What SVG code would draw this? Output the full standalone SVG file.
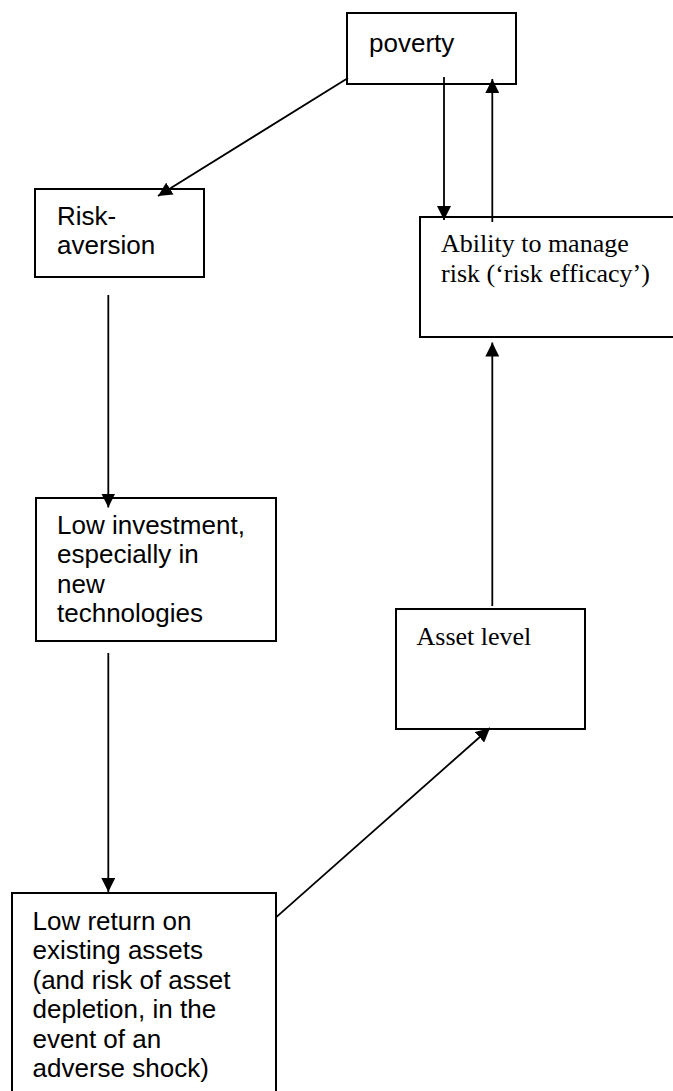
<svg xmlns="http://www.w3.org/2000/svg" width="673" height="1091" viewBox="0 0 673 1091">
  <style>
    .box { fill: #ffffff; stroke: #000000; stroke-width: 2; }
    .sans { font-family: "Liberation Sans", Arial, sans-serif; font-size: 26px; fill: #000000; }
    .serif { font-family: "Liberation Serif", "Times New Roman", serif; font-size: 26px; fill: #000000; }
    .link { fill: none; stroke: #000000; stroke-width: 1.8; marker-end: url(#head); }
  </style>
  <defs>
    <marker id="head" viewBox="0 0 14 14" refX="14" refY="7" markerWidth="14" markerHeight="14" markerUnits="userSpaceOnUse" orient="auto">
      <path d="M0,0 L14,7 L0,14 Z" fill="#000000"/>
    </marker>
  </defs>

  <rect width="673" height="1091" fill="#ffffff"/>

  <g id="node-poverty">
    <rect class="box" x="347" y="13" width="169" height="71"/>
    <text class="sans" x="369" y="52">poverty</text>
  </g>

  <g id="node-risk-aversion">
    <rect class="box" x="35" y="189" width="169" height="88"/>
    <text class="sans" x="57" y="225">Risk-</text>
    <text class="sans" x="57" y="253.5">aversion</text>
  </g>

  <g id="node-risk-efficacy">
    <rect class="box" x="420" y="217" width="262" height="120"/>
    <text class="serif" x="441" y="252">Ability to manage</text>
    <text class="serif" x="441" y="282">risk (‘risk efficacy’)</text>
  </g>

  <g id="node-low-investment">
    <rect class="box" x="36" y="498" width="240" height="143"/>
    <text class="sans" x="57" y="533.5">Low investment,</text>
    <text class="sans" x="57" y="563">especially in</text>
    <text class="sans" x="57" y="592.5">new</text>
    <text class="sans" x="57" y="622">technologies</text>
  </g>

  <g id="node-asset-level">
    <rect class="box" x="396" y="609" width="189" height="120"/>
    <text class="serif" x="416.5" y="645">Asset level</text>
  </g>

  <g id="node-low-return">
    <rect class="box" x="12" y="893" width="264" height="210"/>
    <text class="sans" x="32.5" y="929.5">Low return on</text>
    <text class="sans" x="32.5" y="959">existing assets</text>
    <text class="sans" x="32.5" y="988.5">(and risk of asset</text>
    <text class="sans" x="32.5" y="1018">depletion, in the</text>
    <text class="sans" x="32.5" y="1047.5">event of an</text>
    <text class="sans" x="32.5" y="1077">adverse shock)</text>
  </g>

  <g id="connectors">
    <line class="link" x1="348" y1="78" x2="158" y2="196"/>
    <line class="link" x1="444" y1="77" x2="444" y2="220"/>
    <line class="link" x1="492.3" y1="222" x2="492.3" y2="79"/>
    <line class="link" x1="108.3" y1="295" x2="108.3" y2="507.5"/>
    <line class="link" x1="108.3" y1="653" x2="108.3" y2="892"/>
    <line class="link" x1="276" y1="917.3" x2="490" y2="728"/>
    <line class="link" x1="492.3" y1="606" x2="492.3" y2="342.5"/>
  </g>
</svg>
